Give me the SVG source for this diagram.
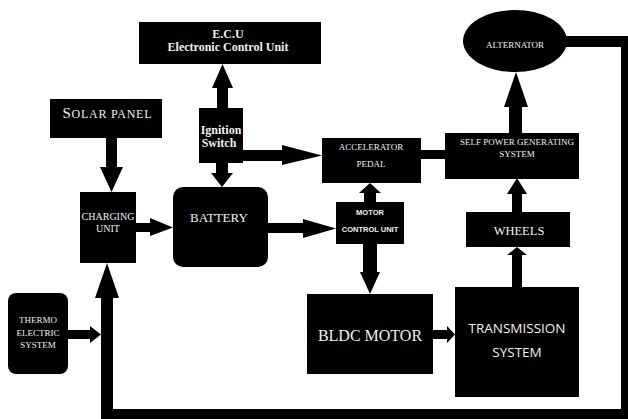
<svg xmlns="http://www.w3.org/2000/svg" width="628" height="419" viewBox="0 0 628 419">
<style>
.box{fill:#000}
.conn{fill:#000}
.t{fill:#f0f0f0;font-family:"Liberation Serif","Times New Roman",serif;text-anchor:middle}
.b{font-weight:bold}
.s{fill:#f0f0f0;font-family:"Liberation Sans",Arial,sans-serif;text-anchor:middle}
.o{fill:#f0f0f0;font-family:"Open Sans","Liberation Sans",sans-serif;text-anchor:middle}
</style>
<rect width="628" height="419" fill="#fff"/>
<g id="connectors">
  <polygon class="conn" points="217,108 217,88 212,88 222.5,64 233,88 228,88 228,108"/>
  <polygon class="conn" points="216,163 216,173 211,173 222,187 233,173 228,173 228,163"/>
  <polygon class="conn" points="243,150 282,150 282,145 322,155.5 282,165 282,161 243,161"/>
  <polygon class="conn" points="106,138 106,167 100,167 111.5,192 123,167 117,167 117,138"/>
  <polygon class="conn" points="136,223 150,223 150,218 173,227.5 150,236 150,232 136,232"/>
  <polygon class="conn" points="268,223 303,223 303,219 336,228.5 303,238 303,233 268,233"/>
  <polygon class="conn" points="364,202 364,193 359,193 370,183 381,193 376,193 376,202"/>
  <polygon class="conn" points="363,244 363,272 360,272 370,294 380,272 377,272 377,244"/>
  <polygon class="conn" points="433,330 447,330 447,326 455,334.5 447,343 447,339 433,339"/>
  <polygon class="conn" points="512,287 512,255 507,255 517,247 527,255 522,255 522,287"/>
  <polygon class="conn" points="512,212 512,194 507,194 517,178 527,194 522,194 522,212"/>
  <polygon class="conn" points="509,133 509,107 504,107 516,72 528,107 522,107 522,133"/>
  <rect class="conn" x="421" y="150" width="24" height="9"/>
  <polygon class="conn" points="68,330 90,330 90,326 101,334.5 90,343 90,339 68,339"/>
  <polygon class="conn" points="560,36 628,36 628,419 101,419 101,298 95,298 107,263 119,298 113,298 113,409 621,409 621,47 560,47"/>
</g>
<g id="ecu">
  <rect class="box" x="139" y="22" width="182" height="42"/>
  <text class="t b" x="228" y="38" font-size="12">E.C.U</text>
  <text class="t b" x="228" y="51" font-size="12">Electronic Control Unit</text>
</g>
<g id="solar-panel">
  <rect class="box" x="50" y="99" width="112" height="39"/>
  <text class="t" x="107" y="118" font-size="12" textLength="89" lengthAdjust="spacing"><tspan font-size="15">S</tspan>OLAR PANEL</text>
</g>
<g id="ignition-switch">
  <rect class="box" x="199" y="108" width="44" height="55"/>
  <text class="t b" x="221" y="134" font-size="12">Ignition</text>
  <text class="t b" x="219" y="147" font-size="12">Switch</text>
</g>
<g id="charging-unit">
  <rect class="box" x="80" y="192" width="56" height="71"/>
  <text class="t" x="108" y="219.5" font-size="10">CHARGING</text>
  <text class="t" x="108" y="231.5" font-size="10">UNIT</text>
</g>
<g id="battery">
  <rect class="box" x="173" y="187" width="95" height="80" rx="10"/>
  <text class="t" x="219" y="222" font-size="13">BATTERY</text>
</g>
<g id="accelerator-pedal">
  <rect class="box" x="322" y="138" width="99" height="45"/>
  <text class="t" x="371" y="150" font-size="9">ACCELERATOR</text>
  <text class="t" x="371" y="167" font-size="9">PEDAL</text>
</g>
<g id="self-power">
  <rect class="box" x="445" y="133" width="134" height="46"/>
  <text class="t" x="517" y="145" font-size="9">SELF POWER GENERATING</text>
  <text class="t" x="517" y="157" font-size="9">SYSTEM</text>
</g>
<g id="alternator">
  <ellipse class="box" cx="515" cy="41" rx="52" ry="31"/>
  <text class="t" x="515" y="48" font-size="9">ALTERNATOR</text>
</g>
<g id="motor-control-unit">
  <rect class="box" x="336" y="202" width="68" height="42"/>
  <text class="s b" x="370" y="215" font-size="7.5">MOTOR</text>
  <text class="s b" x="370" y="232" font-size="7.5">CONTROL UNIT</text>
</g>
<g id="wheels">
  <rect class="box" x="466" y="212" width="104" height="35"/>
  <text class="t" x="519" y="234.5" font-size="12.5">WHEELS</text>
</g>
<g id="bldc-motor">
  <rect class="box" x="307" y="294" width="126" height="80"/>
  <text class="t" x="370" y="341" font-size="16">BLDC MOTOR</text>
</g>
<g id="transmission">
  <rect class="box" x="455" y="287" width="124" height="110"/>
  <text class="o" x="517" y="333" font-size="13.5">TRANSMISSION</text>
  <text class="o" x="517" y="357" font-size="13.5">SYSTEM</text>
</g>
<g id="thermo-electric">
  <rect class="box" x="8" y="293" width="60" height="81" rx="8"/>
  <text class="t" x="38" y="323" font-size="9">THERMO</text>
  <text class="t" x="38" y="336" font-size="9">ELECTRIC</text>
  <text class="t" x="38" y="348" font-size="9">SYSTEM</text>
</g>
</svg>
